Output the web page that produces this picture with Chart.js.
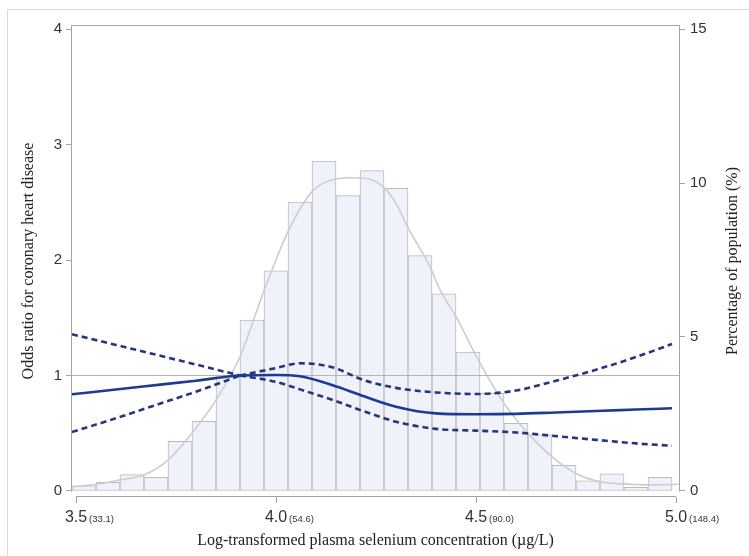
<!DOCTYPE html>
<html>
<head>
<meta charset="utf-8">
<script src="https://cdn.jsdelivr.net/npm/chart.js@4.4.1/dist/chart.umd.min.js"></script>
<style>
  html, body { margin: 0; padding: 0; background: #fff; }
  #wrap { width: 749px; height: 556px; position: relative; }
</style>
</head>
<body>
<div id="wrap"><canvas id="c" width="749" height="556"></canvas></div>
<script>
// ---------- DATA ----------
// Histogram (right axis, % of population), bin centres on log scale
const binCenters = [3.52, 3.58, 3.64, 3.70, 3.76, 3.82, 3.88, 3.94, 4.00, 4.06, 4.12, 4.18, 4.24,
                    4.30, 4.36, 4.42, 4.48, 4.54, 4.60, 4.66, 4.72, 4.78, 4.84, 4.90, 4.96];
const binPercent = [0.17, 0.28, 0.53, 0.44, 1.61, 2.26, 3.76, 5.55, 7.15, 9.38, 10.71, 9.59, 10.40,
                    9.83, 7.64, 6.40, 4.51, 3.17, 2.20, 1.82, 0.83, 0.33, 0.56, 0.12, 0.44];

// Density curve (right axis, %)
const densityX = [3.49, 3.55, 3.61, 3.67, 3.73, 3.79, 3.85, 3.91, 3.97, 4.03, 4.09, 4.14, 4.19, 4.235,
                  4.27, 4.30, 4.33, 4.385, 4.41, 4.45, 4.51, 4.57, 4.63, 4.69, 4.75, 4.81, 4.87, 4.93, 5.01];
const densityY = [0.14, 0.22, 0.36, 0.52, 1.00, 1.88, 2.95, 4.36, 6.50, 8.42, 9.72, 10.10, 10.17, 10.12,
                  9.85, 9.34, 8.55, 7.28, 6.53, 5.66, 4.15, 2.85, 1.87, 1.11, 0.57, 0.30, 0.23, 0.20, 0.22];

// Odds ratio curve and 95% CI (left axis)
const curveX   = [3.49, 3.60, 3.70, 3.80, 3.91, 4.00, 4.06, 4.14, 4.22, 4.30, 4.40, 4.50, 4.60, 4.70, 4.80, 4.90, 4.99];
const oddsRatio = [0.837, 0.879, 0.917, 0.955, 1.000, 1.005, 0.993, 0.918, 0.820, 0.730, 0.672, 0.664, 0.668, 0.680, 0.693, 0.705, 0.716];
const ciUpper  = [1.357, 1.265, 1.180, 1.095, 1.000, 1.065, 1.106, 1.072, 0.960, 0.893, 0.853, 0.840, 0.870, 0.955, 1.050, 1.160, 1.273];
const ciLower  = [0.510, 0.630, 0.745, 0.860, 1.000, 0.945, 0.880, 0.790, 0.690, 0.600, 0.538, 0.523, 0.507, 0.475, 0.443, 0.412, 0.392];
const refIndex = 4;          // reference point (OR = 1) in curveX
const refOR = 1;             // horizontal reference line value

// Axis ticks
const xTickValues = [3.5, 4.0, 4.5, 5.0];
const xTickLabels = ['3.5', '4.0', '4.5', '5.0'];
const xTickSub    = ['(33.1)', '(54.6)', '(90.0)', '(148.4)'];
const leftTicks   = [0, 1, 2, 3, 4];
const rightTicks  = [0, 5, 10, 15];

const xTitle = 'Log-transformed plasma selenium concentration (\u00b5g/L)';
const yTitle = 'Odds ratio for coronary heart disease';
const y2Title = 'Percentage of population (%)';

// ---------- BUILD ----------
const pts = (xs, ys) => xs.map((x, i) => ({ x: x, y: ys[i] }));
const NAVY = '#1f3a92';
const DASH = '#27357f';
const AXIS = '#a3a3a3';
const SERIF = '"Liberation Serif", "Times New Roman", serif';
const SANS = '"Liberation Sans", Arial, sans-serif';

const dashed = (arr, part) => {
  const xs = part === 0 ? curveX.slice(0, refIndex + 1) : curveX.slice(refIndex);
  const ys = part === 0 ? arr.slice(0, refIndex + 1) : arr.slice(refIndex);
  return {
    type: 'line', data: pts(xs, ys), yAxisID: 'y', order: 2,
    borderColor: DASH, borderWidth: 2.6, borderDash: [6, 4],
    pointRadius: 0, cubicInterpolationMode: 'monotone', fill: false
  };
};

const decor = {
  id: 'decor',
  beforeDraw(chart) {
    const ctx = chart.ctx;
    ctx.save();
    ctx.fillStyle = '#ffffff';
    ctx.fillRect(0, 0, chart.width, chart.height);
    ctx.strokeStyle = '#dadada';
    ctx.lineWidth = 1;
    ctx.beginPath();
    ctx.moveTo(7.5, chart.height);
    ctx.lineTo(7.5, 9.5);
    ctx.lineTo(chart.width, 9.5);
    ctx.stroke();
    ctx.restore();
  },
  afterDraw(chart) {
    const { ctx, chartArea: a, scales } = chart;
    const x = scales.x, y = scales.y;
    ctx.save();
    ctx.strokeStyle = AXIS;
    ctx.lineWidth = 1;
    const y0 = Math.round(y.getPixelForValue(0)) + 0.5;
    ctx.beginPath();
    ctx.moveTo(Math.round(a.left) + 0.5, y0);
    ctx.lineTo(Math.round(a.left) + 0.5, Math.round(a.top) + 0.5);
    ctx.lineTo(Math.round(a.right) - 0.5, Math.round(a.top) + 0.5);
    ctx.lineTo(Math.round(a.right) - 0.5, y0);
    ctx.stroke();
    // x axis line between first and last tick
    const xb = Math.round(a.bottom) - 0.5;
    ctx.beginPath();
    ctx.moveTo(x.getPixelForValue(xTickValues[0]), xb);
    ctx.lineTo(x.getPixelForValue(xTickValues[xTickValues.length - 1]), xb);
    ctx.stroke();
    // x tick labels: main number + small bracketed concentration
    const base = a.bottom + 24.5;
    ctx.fillStyle = '#333';
    ctx.textBaseline = 'alphabetic';
    xTickValues.forEach((v, i) => {
      const px = x.getPixelForValue(v);
      ctx.font = '16px ' + SANS;
      ctx.textAlign = 'center';
      ctx.fillText(xTickLabels[i], px, base);
      const w = ctx.measureText(xTickLabels[i]).width;
      ctx.font = '9.5px ' + SANS;
      ctx.textAlign = 'left';
      ctx.fillText(xTickSub[i], px + w / 2 + 2, base);
    });
    // right axis title, reading bottom-to-top like the left one
    ctx.translate(733, (a.top + a.bottom) / 2);
    ctx.rotate(-Math.PI / 2);
    ctx.font = '16px ' + SERIF;
    ctx.fillStyle = '#222';
    ctx.textAlign = 'center';
    ctx.textBaseline = 'middle';
    ctx.fillText(y2Title, 0, 0);
    ctx.restore();
  }
};

const titleFont = { family: SERIF, size: 16, lineHeight: 1.2 };
const tickFont = { family: SANS, size: 15 };

new Chart(document.getElementById('c'), {
  type: 'bar',
  data: {
    datasets: [
      { type: 'line', data: pts(curveX, oddsRatio), yAxisID: 'y', order: 1,
        borderColor: NAVY, borderWidth: 2.6, pointRadius: 0, cubicInterpolationMode: 'monotone', fill: false },
      dashed(ciUpper, 0), dashed(ciUpper, 1), dashed(ciLower, 0), dashed(ciLower, 1),
      { type: 'line', data: [{ x: 3.4875, y: refOR }, { x: 5.01, y: refOR }], yAxisID: 'y', order: 3,
        borderColor: '#b4b4b4', borderWidth: 1, pointRadius: 0, fill: false },
      { type: 'line', data: pts(densityX, densityY), yAxisID: 'y2', order: 4,
        borderColor: '#cdcdd1', borderWidth: 1.6, pointRadius: 0, cubicInterpolationMode: 'monotone', fill: false },
      { type: 'bar', data: pts(binCenters, binPercent), yAxisID: 'y2', order: 5,
        backgroundColor: '#eff3f9', borderColor: '#b8bbc3', borderWidth: 1,
        barPercentage: 1, categoryPercentage: 1, borderSkipped: false }
    ]
  },
  options: {
    responsive: false,
    animation: false,
    layout: { padding: { top: 25, left: 0, right: 0, bottom: 0 } },
    plugins: { legend: { display: false }, tooltip: { enabled: false } },
    scales: {
      x: {
        type: 'linear', position: 'bottom', min: 3.4875, max: 5.01, offset: false,
        afterBuildTicks: s => { s.ticks = xTickValues.map(v => ({ value: v })); },
        afterFit: s => { s.height = 59; },
        ticks: { display: false },
        grid: { drawOnChartArea: false, offset: false, drawTicks: true, tickLength: 6, color: AXIS },
        border: { display: false },
        title: { display: true, text: xTitle, font: titleFont, color: '#222', padding: { top: 0, bottom: 6 } }
      },
      y: {
        type: 'linear', position: 'left', min: -0.052, max: 4.035,
        afterBuildTicks: s => { s.ticks = leftTicks.map(v => ({ value: v })); },
        afterFit: s => { s.width = 71; },
        ticks: { font: tickFont, color: '#333', padding: 4 },
        grid: { drawOnChartArea: false, drawTicks: true, tickLength: 5, color: AXIS },
        border: { display: false },
        title: { display: true, text: yTitle, font: titleFont, color: '#222', padding: { top: 19, bottom: 0 } }
      },
      y2: {
        type: 'linear', position: 'right', min: -0.195, max: 15.13,
        afterBuildTicks: s => { s.ticks = rightTicks.map(v => ({ value: v })); },
        afterFit: s => { s.width = 69; },
        ticks: { font: tickFont, color: '#333', padding: 5 },
        grid: { drawOnChartArea: false, drawTicks: true, tickLength: 5, color: AXIS },
        border: { display: false },
        title: { display: false }
      }
    }
  },
  plugins: [decor]
});
</script>
</body>
</html>
